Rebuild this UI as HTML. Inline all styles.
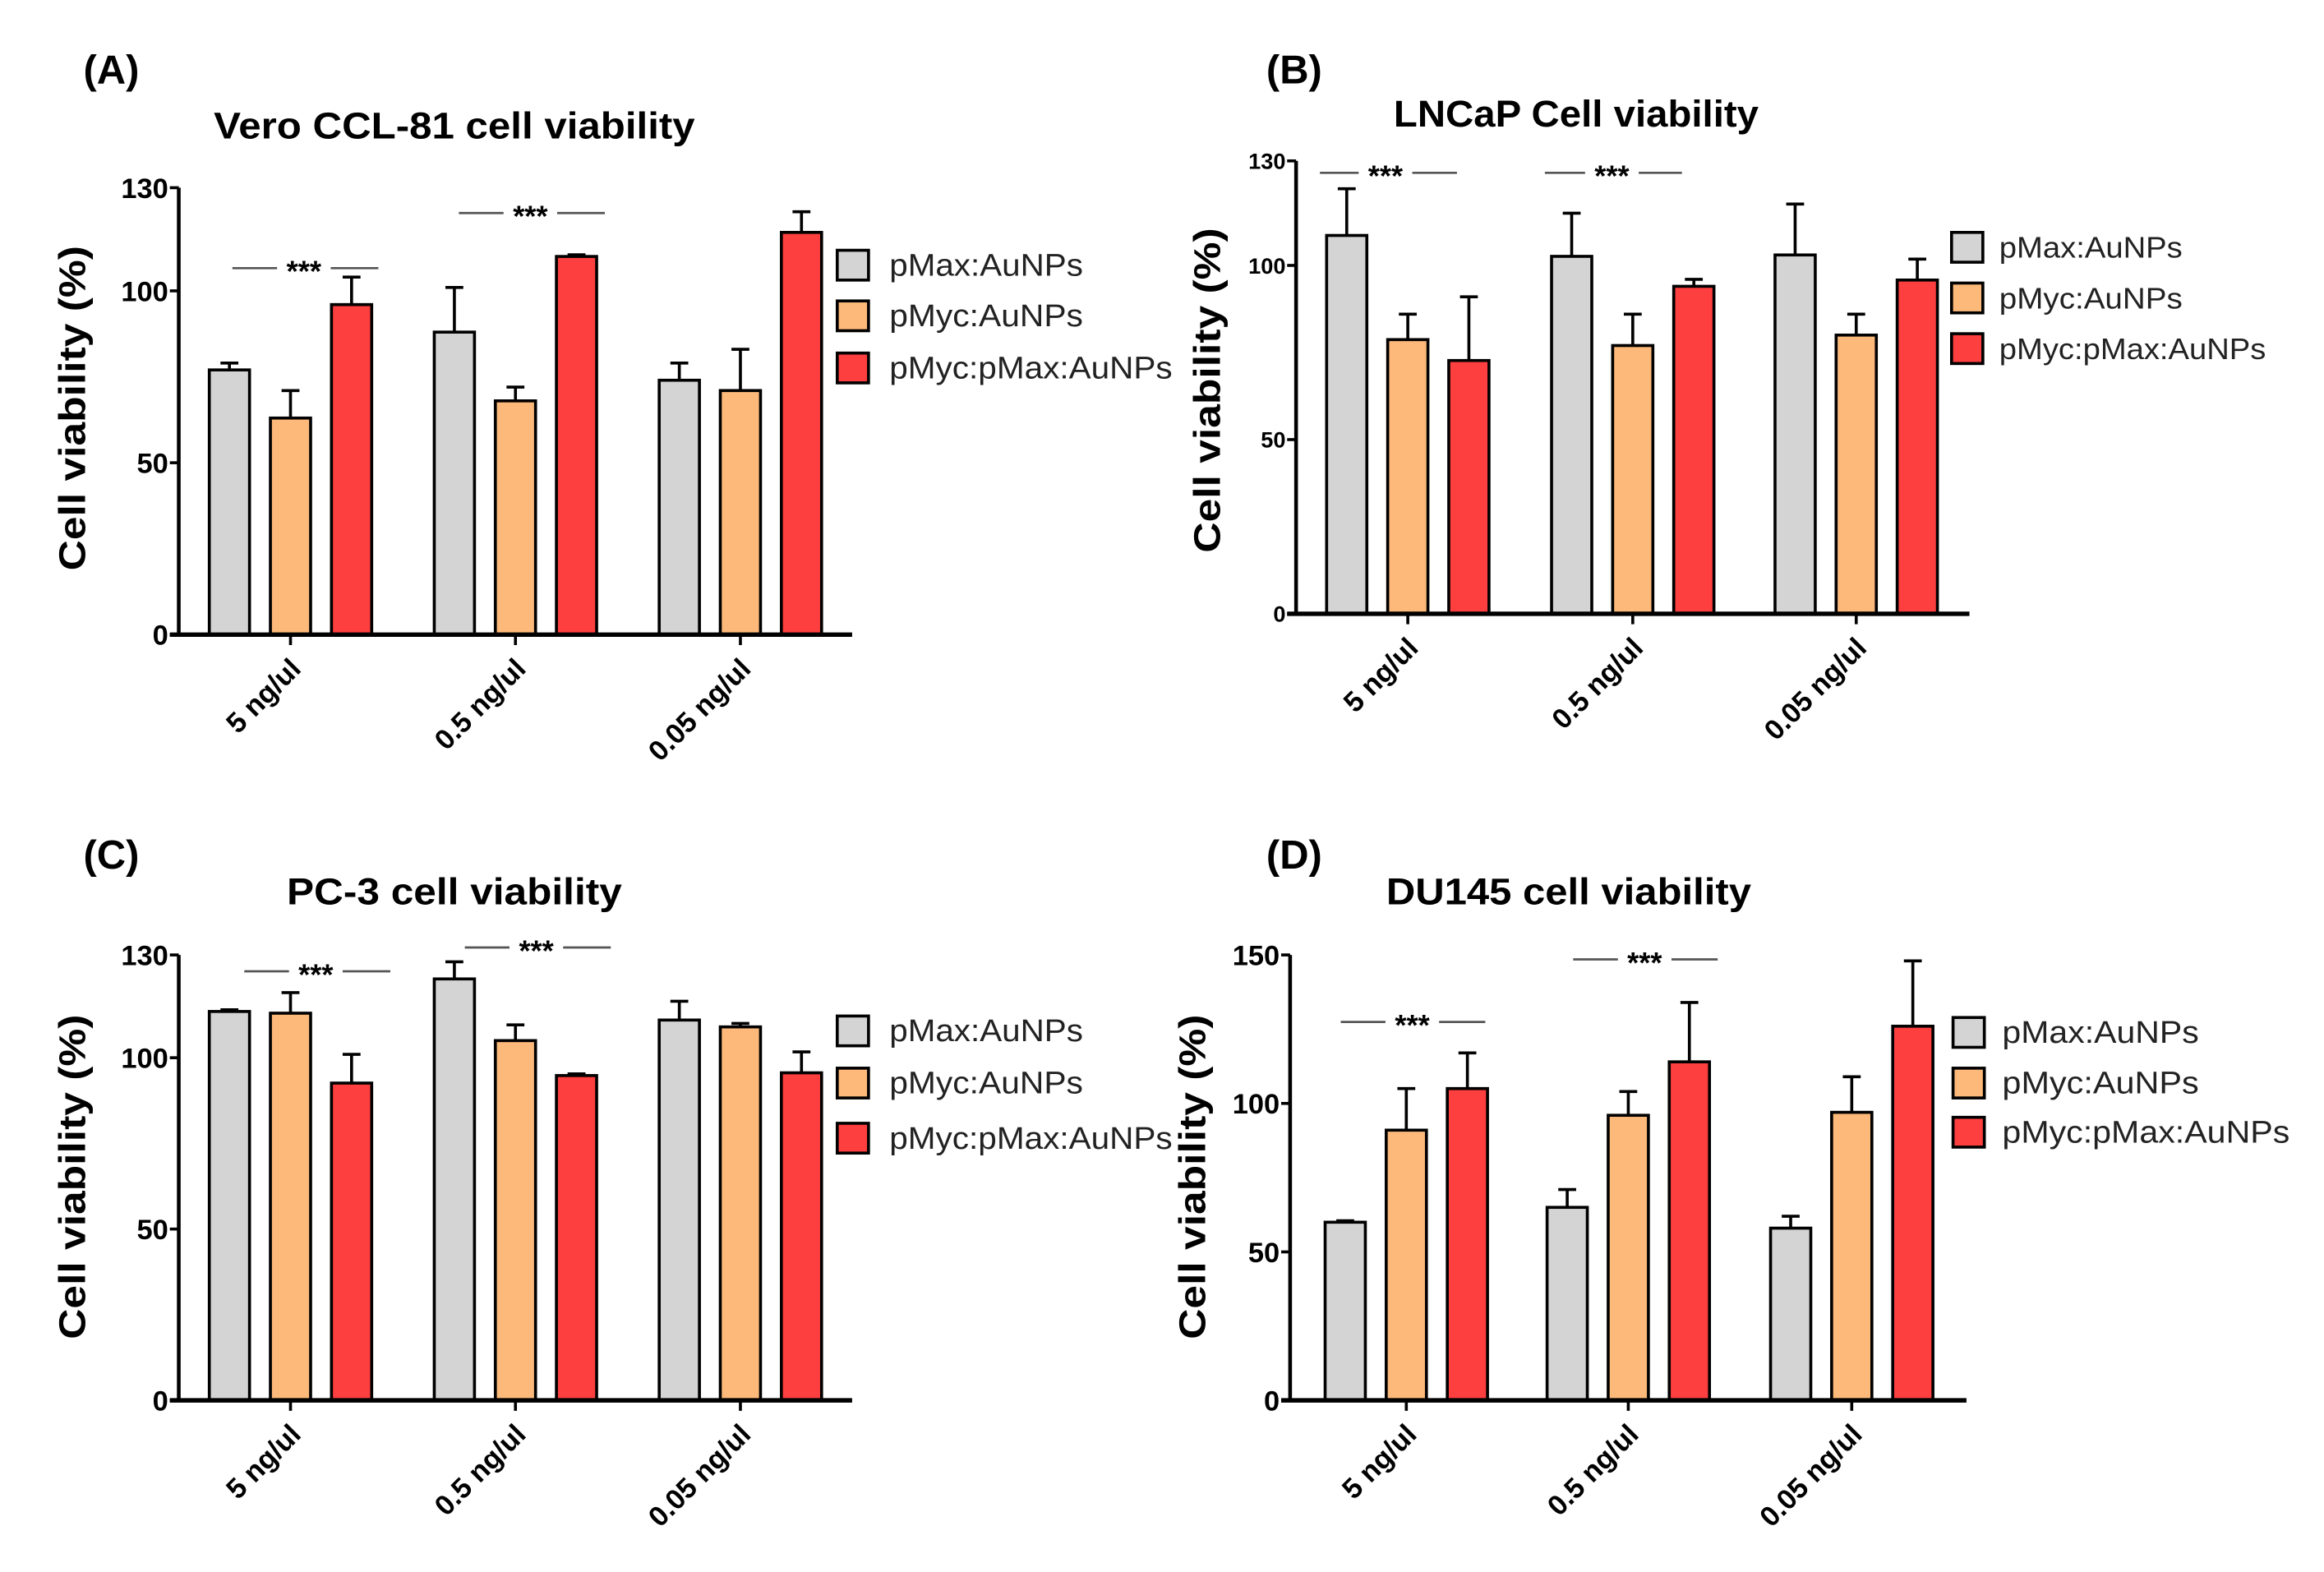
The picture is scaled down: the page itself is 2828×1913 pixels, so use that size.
<!DOCTYPE html>
<html><head><meta charset="utf-8"><style>
html,body{margin:0;padding:0;background:#fff;}
svg{display:block;font-family:"Liberation Sans",Arial,sans-serif;}
</style></head><body>
<svg id="fig" width="2828" height="1913" viewBox="0 0 1560 1055.2" preserveAspectRatio="none" xmlns="http://www.w3.org/2000/svg"></svg>
<script>
const categories = ["5 ng/ul", "0.5 ng/ul", "0.05 ng/ul"];
const seriesNames = ["pMax:AuNPs", "pMyc:AuNPs", "pMyc:pMax:AuNPs"];
const colors = ["#d4d4d4", "#fdb97a", "#fe3f3f"];

const aMean = [[77, 88, 74], [63, 68, 71], [96, 110, 117]];
const aErr  = [[79, 101, 79], [71, 72, 83], [104, 110.5, 123]];
const aTicks = [0, 50, 100, 130];

const bMean = [[108.6, 102.6, 103], [78.7, 77, 80], [72.7, 94, 95.8]];
const bErr  = [[122, 115, 117.6], [86, 86, 86], [91, 96, 101.8]];
const bTicks = [0, 50, 100, 130];

const cMean = [[113.5, 123, 111], [113, 105, 109], [92.6, 94.8, 95.6]];
const cErr  = [[114, 128, 116.5], [119, 109.6, 110], [101, 95.3, 101.7]];
const cTicks = [0, 50, 100, 130];

const dMean = [[60, 65, 58], [91, 96, 97], [105, 114, 126]];
const dErr  = [[60.5, 71, 62], [105, 104, 109], [117, 134, 148]];
const dTicks = [0, 50, 100, 150];

const svg = document.getElementById('fig');
const NS = 'http://www.w3.org/2000/svg';
function mk(tag, attrs, parent, text) {
  const e = document.createElementNS(NS, tag);
  for (const k in attrs) e.setAttribute(k, attrs[k]);
  if (text !== undefined) e.textContent = text;
  (parent || svg).appendChild(e);
  return e;
}

const panels = [
  {id:'a', letter:'(A)', lx:56, ly:56, title:'Vero CCL-81 cell viability', tx:305, ty:93, tw:323,
   ax:120, y0:426, yTop:126, ymax:130, x1:572, centers:[195,346,497], ticks:aTicks, mean:aMean, err:aErr, tickFont:19,
   ylx:57, yly:274, leg:{x:562, ys:[178,212,247], tx:597, fs:21, w:[130,130,190]},
   sig:[{x1:156,x2:254,y:180,c:204},{x1:308,x2:406,y:143,c:356}]},
  {id:'b', letter:'(B)', lx:850, ly:56, title:'LNCaP  Cell viability', tx:1058, ty:85, tw:245,
   ax:870, y0:412, yTop:108, ymax:130, x1:1322, centers:[945,1096,1246], ticks:bTicks, mean:bMean, err:bErr, tickFont:15,
   ylx:819, yly:262, leg:{x:1310, ys:[166,200,234], tx:1342, fs:20, w:[123,123,179]},
   sig:[{x1:886,x2:978,y:116,c:930},{x1:1037,x2:1129,y:116,c:1082}]},
  {id:'c', letter:'(C)', lx:56, ly:583, title:'PC-3 cell viability', tx:305, ty:607, tw:225,
   ax:120, y0:940, yTop:641, ymax:130, x1:572, centers:[195,346,497], ticks:cTicks, mean:cMean, err:cErr, tickFont:19,
   ylx:57, yly:790, leg:{x:562, ys:[692,727,764], tx:597, fs:21, w:[130,130,190]},
   sig:[{x1:164,x2:262,y:652,c:212},{x1:312,x2:410,y:636,c:360}]},
  {id:'d', letter:'(D)', lx:850, ly:583, title:'DU145 cell viability', tx:1053, ty:607, tw:245,
   ax:866, y0:940, yTop:641, ymax:150, x1:1320, centers:[944,1093,1243], ticks:dTicks, mean:dMean, err:dErr, tickFont:19,
   ylx:809, yly:790, leg:{x:1311, ys:[693,727,760], tx:1344, fs:21, w:[132,132,193]},
   sig:[{x1:900,x2:997,y:686,c:948},{x1:1056,x2:1153,y:644,c:1104}]}
];

panels.forEach(p => {
  const g = mk('g', {});
  
  
  const yScale = v => p.y0 - v / p.ymax * (p.y0 - p.yTop);

  const lt = mk('text', {x:p.lx, y:p.ly, 'font-size':27, 'font-weight':'bold'}, g, p.letter);
  
  
  const tt = mk('text', {x:p.tx, y:p.ty, 'font-size':25, 'font-weight':'bold', 'text-anchor':'middle', textLength:p.tw, lengthAdjust:'spacingAndGlyphs'}, g, p.title);
  
  
  const yl = mk('text', {x:0, y:0, 'font-size':25, 'font-weight':'bold', 'text-anchor':'middle', textLength:218, lengthAdjust:'spacingAndGlyphs', transform:`translate(${p.ylx},${p.yly}) rotate(-90)`}, g, 'Cell viability  (%)');
  
  

  const offs = [-41, 0, 41], bw = 27;
  for (let s = 0; s < 3; s++) {
    for (let c = 0; c < 3; c++) {
      const cx = p.centers[c] + offs[s];
      const top = yScale(p.mean[s][c]);
      const et = yScale(p.err[s][c]);
      const el = mk('line', {x1:cx, x2:cx, y1:top, y2:et, stroke:'#000', 'stroke-width':2}, g);
      
      
      mk('line', {x1:cx-6, x2:cx+6, y1:et, y2:et, stroke:'#000', 'stroke-width':2}, g);
      const r = mk('rect', {x:cx-bw/2, y:top, width:bw, height:p.y0-top, fill:colors[s], stroke:'#000', 'stroke-width':2}, g);
      
      
    }
  }
  const ya = mk('line', {x1:p.ax, x2:p.ax, y1:p.yTop, y2:p.y0+1, stroke:'#000', 'stroke-width':2.5}, g);
  
  
  const xa = mk('line', {x1:p.ax-6, x2:p.x1, y1:p.y0, y2:p.y0, stroke:'#000', 'stroke-width':3}, g);
  
  
  p.ticks.forEach(t => {
    const y = yScale(t);
    mk('line', {x1:p.ax-6, x2:p.ax, y1:y, y2:y, stroke:'#000', 'stroke-width':2}, g);
    const tl = mk('text', {x:p.ax-7, y:y+p.tickFont*0.36, 'font-size':p.tickFont, 'font-weight':'bold', 'text-anchor':'end'}, g, String(t));
    
    
  });
  categories.forEach((cat, c) => {
    const cx = p.centers[c];
    mk('line', {x1:cx, x2:cx, y1:p.y0, y2:p.y0+7, stroke:'#000', 'stroke-width':2}, g);
    const xl = mk('text', {x:0, y:0, 'font-size':19, 'font-weight':'bold', 'text-anchor':'end', transform:`translate(${cx+8},${p.y0+24}) rotate(-45)`}, g, cat);
    
    
  });
  p.sig.forEach(sg => {
    mk('line', {x1:sg.x1, x2:sg.c-18, y1:sg.y, y2:sg.y, stroke:'#555', 'stroke-width':1.5}, g);
    mk('line', {x1:sg.c+18, x2:sg.x2, y1:sg.y, y2:sg.y, stroke:'#555', 'stroke-width':1.5}, g);
    const st = mk('text', {x:sg.c, y:sg.y+9, 'font-size':20, 'font-weight':'bold', 'text-anchor':'middle'}, g, '***');
    
    
  });
  seriesNames.forEach((n, s) => {
    const y = p.leg.ys[s];
    const lr = mk('rect', {x:p.leg.x, y:y-10, width:21, height:20, fill:colors[s], stroke:'#000', 'stroke-width':2}, g);
    
    
    const lt2 = mk('text', {x:p.leg.tx, y:y+7, 'font-size':p.leg.fs, fill:'#222', textLength:p.leg.w[s], lengthAdjust:'spacingAndGlyphs'}, g, n);
    
    
  });
});
</script>
</body></html>
